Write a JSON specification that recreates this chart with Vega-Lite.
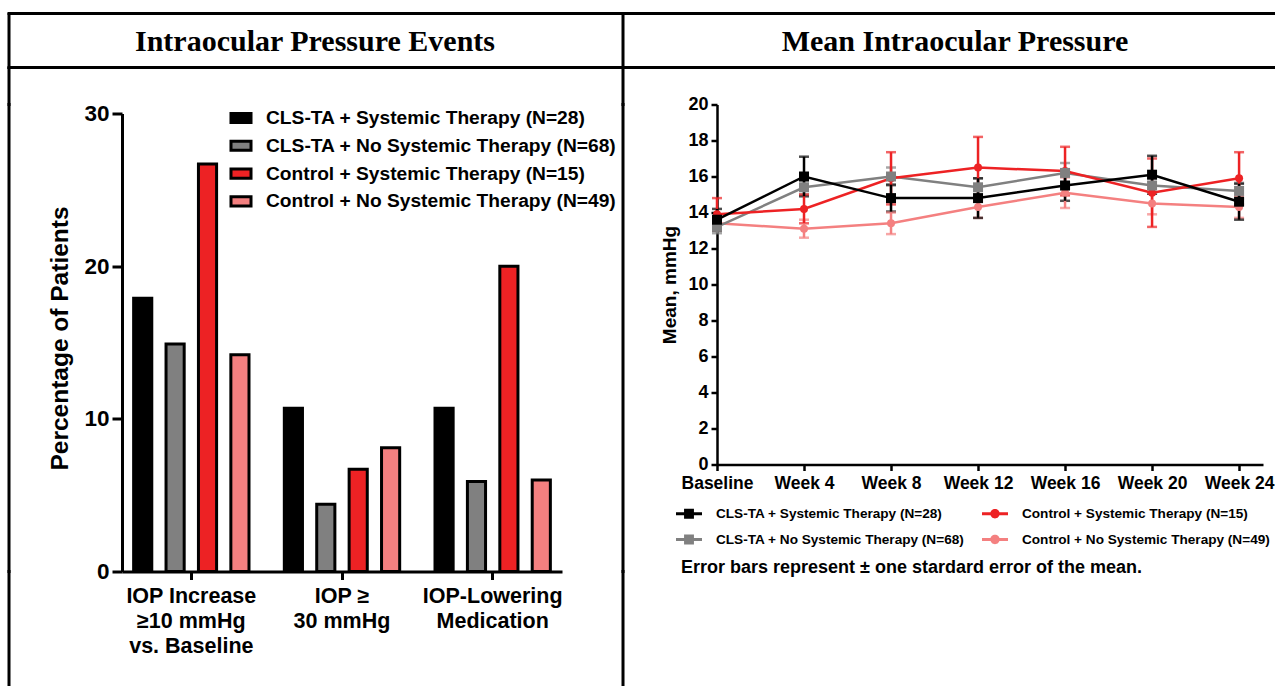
{
  "$schema": "https://vega.github.io/schema/vega-lite/v6.json",
  "padding": {"left": 7, "top": 11.5, "right": 0, "bottom": 0},
  "autosize": {"type": "pad"},
  "config": {
    "view": {"stroke": null},
    "font": "Liberation Sans",
    "axis": {"grid": false, "domainColor": "black", "tickColor": "black", "labelColor": "black", "titleColor": "black", "labelFontWeight": "bold", "titleFontWeight": "bold", "labelFont": "Liberation Sans", "titleFont": "Liberation Sans"},
    "legend": {"labelColor": "black", "titleColor": "black", "labelFontWeight": "bold", "titleFontWeight": "bold", "labelFont": "Liberation Sans", "titleFont": "Liberation Sans", "labelLimit": 600, "titleLimit": 800}
  },
  "resolve": {"scale": {"color": "independent"}, "legend": {"color": "independent"}},
  "columns": 8,
  "bounds": "flush",
  "align": "each",
  "spacing": 0,
  "concat": [
    {"width": 0.01, "height": 0.01, "view": {"stroke": "black", "strokeWidth": 3}, "data": {"values": []}, "mark": "point"},
    {"width": 112, "height": 0.01, "view": {"stroke": "black", "strokeWidth": 3}, "data": {"values": []}, "mark": "point"},
    {"width": 440, "height": 0.01, "view": {"stroke": "black", "strokeWidth": 3}, "data": {"values": []}, "mark": "point"},
    {"width": 60.5, "height": 0.01, "view": {"stroke": "black", "strokeWidth": 3}, "data": {"values": []}, "mark": "point"},
    {"width": 0.01, "height": 0.01, "view": {"stroke": "black", "strokeWidth": 3}, "data": {"values": []}, "mark": "point"},
    {"width": 92.5, "height": 0.01, "view": {"stroke": "black", "strokeWidth": 3}, "data": {"values": []}, "mark": "point"},
    {"width": 546, "height": 0.01, "view": {"stroke": "black", "strokeWidth": 3}, "data": {"values": []}, "mark": "point"},
    {"width": 11.5, "height": 0.01, "view": {"stroke": "black", "strokeWidth": 3}, "data": {"values": []}, "mark": "point"},

    {"width": 0.01, "height": 53, "view": {"stroke": "black", "strokeWidth": 3}, "data": {"values": []}, "mark": "point"},
    {"width": 0.01, "height": 0.01, "data": {"values": []}, "mark": "point"},
    {"width": 440, "height": 53, "data": {"values": [{"title": "Intraocular Pressure Events"}]}, "mark": {"type": "text", "font": "Liberation Serif", "fontSize": 30, "fontWeight": "bold", "color": "black", "dy": 1, "dx": -27}, "encoding": {"text": {"field": "title"}}},
    {"width": 0.01, "height": 0.01, "data": {"values": []}, "mark": "point"},
    {"width": 0.01, "height": 53, "view": {"stroke": "black", "strokeWidth": 3}, "data": {"values": []}, "mark": "point"},
    {"width": 0.01, "height": 0.01, "data": {"values": []}, "mark": "point"},
    {"width": 546, "height": 53, "data": {"values": [{"title": "Mean Intraocular Pressure"}]}, "mark": {"type": "text", "font": "Liberation Serif", "fontSize": 30, "fontWeight": "bold", "color": "black", "dy": 1, "dx": -35}, "encoding": {"text": {"field": "title"}}},
    {"width": 0.01, "height": 0.01, "data": {"values": []}, "mark": "point"},

    {"width": 0.01, "height": 0.01, "view": {"stroke": "black", "strokeWidth": 3}, "data": {"values": []}, "mark": "point"},
    {"width": 112, "height": 0.01, "view": {"stroke": "black", "strokeWidth": 3}, "data": {"values": []}, "mark": "point"},
    {"width": 440, "height": 0.01, "view": {"stroke": "black", "strokeWidth": 3}, "data": {"values": []}, "mark": "point"},
    {"width": 60.5, "height": 0.01, "view": {"stroke": "black", "strokeWidth": 3}, "data": {"values": []}, "mark": "point"},
    {"width": 0.01, "height": 0.01, "view": {"stroke": "black", "strokeWidth": 3}, "data": {"values": []}, "mark": "point"},
    {"width": 92.5, "height": 0.01, "view": {"stroke": "black", "strokeWidth": 3}, "data": {"values": []}, "mark": "point"},
    {"width": 546, "height": 0.01, "view": {"stroke": "black", "strokeWidth": 3}, "data": {"values": []}, "mark": "point"},
    {"width": 11.5, "height": 0.01, "view": {"stroke": "black", "strokeWidth": 3}, "data": {"values": []}, "mark": "point"},

    {"width": 0.01, "height": 36, "view": {"stroke": "black", "strokeWidth": 3}, "data": {"values": []}, "mark": "point"},
    {"width": 0.01, "height": 0.01, "data": {"values": []}, "mark": "point"},
    {"width": 0.01, "height": 0.01, "data": {"values": []}, "mark": "point"},
    {"width": 0.01, "height": 0.01, "data": {"values": []}, "mark": "point"},
    {"width": 0.01, "height": 36, "view": {"stroke": "black", "strokeWidth": 3}, "data": {"values": []}, "mark": "point"},
    {"width": 0.01, "height": 0.01, "data": {"values": []}, "mark": "point"},
    {"width": 0.01, "height": 0.01, "data": {"values": []}, "mark": "point"},
    {"width": 0.01, "height": 0.01, "data": {"values": []}, "mark": "point"},

    {"width": 0.01, "height": 467, "view": {"stroke": "black", "strokeWidth": 3}, "data": {"values": []}, "mark": "point"},
    {"width": 0.01, "height": 0.01, "data": {"values": []}, "mark": "point"},
    {
      "width": 440,
      "height": 467,
      "data": {"values": [
        {"event": "IOP Increase\n≥10 mmHg\nvs. Baseline", "group": "CLS-TA + Systemic Therapy (N=28)", "pct": 17.9},
        {"event": "IOP Increase\n≥10 mmHg\nvs. Baseline", "group": "CLS-TA + No Systemic Therapy (N=68)", "pct": 14.9},
        {"event": "IOP Increase\n≥10 mmHg\nvs. Baseline", "group": "Control + Systemic Therapy (N=15)", "pct": 26.7},
        {"event": "IOP Increase\n≥10 mmHg\nvs. Baseline", "group": "Control + No Systemic Therapy (N=49)", "pct": 14.2},
        {"event": "IOP ≥\n30 mmHg", "group": "CLS-TA + Systemic Therapy (N=28)", "pct": 10.7},
        {"event": "IOP ≥\n30 mmHg", "group": "CLS-TA + No Systemic Therapy (N=68)", "pct": 4.4},
        {"event": "IOP ≥\n30 mmHg", "group": "Control + Systemic Therapy (N=15)", "pct": 6.7},
        {"event": "IOP ≥\n30 mmHg", "group": "Control + No Systemic Therapy (N=49)", "pct": 8.1},
        {"event": "IOP-Lowering\nMedication", "group": "CLS-TA + Systemic Therapy (N=28)", "pct": 10.7},
        {"event": "IOP-Lowering\nMedication", "group": "CLS-TA + No Systemic Therapy (N=68)", "pct": 5.9},
        {"event": "IOP-Lowering\nMedication", "group": "Control + Systemic Therapy (N=15)", "pct": 20.0},
        {"event": "IOP-Lowering\nMedication", "group": "Control + No Systemic Therapy (N=49)", "pct": 6.0}
      ]},
      "mark": {"type": "bar", "stroke": "black", "strokeWidth": 3, "opacity": 1},
      "encoding": {
        "x": {"field": "event", "type": "nominal", "sort": ["IOP Increase\n≥10 mmHg\nvs. Baseline", "IOP ≥\n30 mmHg", "IOP-Lowering\nMedication"], "scale": {"paddingInner": 0.2, "paddingOuter": 0.06},
          "axis": {"title": null, "labelAngle": 0, "labelExpr": "split(datum.label, '\\n')", "labelFontSize": 21.5, "labelLineHeight": 25, "labelPadding": 6, "domainWidth": 3, "tickWidth": 3, "tickSize": 8, "labelOverlap": false}},
        "xOffset": {"field": "group", "type": "nominal", "sort": ["CLS-TA + Systemic Therapy (N=28)", "CLS-TA + No Systemic Therapy (N=68)", "Control + Systemic Therapy (N=15)", "Control + No Systemic Therapy (N=49)"], "scale": {"paddingInner": 0.44, "paddingOuter": 0.08}},
        "y": {"field": "pct", "type": "quantitative", "scale": {"domain": [0, 30], "nice": false, "range": [467, 9]},
          "axis": {"values": [0, 10, 20, 30], "domainWidth": 3, "tickWidth": 3, "tickSize": 10, "labelFontSize": 22.5, "labelPadding": 3, "title": "Percentage of Patients", "titleFontSize": 24.5, "titlePadding": 11, "titleY": 233.5}},
        "color": {"field": "group", "type": "nominal",
          "scale": {"domain": ["CLS-TA + Systemic Therapy (N=28)", "CLS-TA + No Systemic Therapy (N=68)", "Control + Systemic Therapy (N=15)", "Control + No Systemic Therapy (N=49)"], "range": ["#000000", "#808080", "#ed2224", "#f48080"]},
          "legend": {"orient": "none", "legendX": 104.5, "legendY": -1, "title": null, "padding": 0, "symbolType": "M-0.77,-0.35H0.77V0.35H-0.77Z", "symbolSize": 676, "symbolStrokeColor": "black", "symbolStrokeWidth": 3, "symbolOpacity": 1, "labelFontSize": 19.2, "labelOffset": 10.5, "rowPadding": 1.8}}
      }
    },
    {"width": 0.01, "height": 0.01, "data": {"values": []}, "mark": "point"},
    {"width": 0.01, "height": 467, "view": {"stroke": "black", "strokeWidth": 3}, "data": {"values": []}, "mark": "point"},
    {"width": 0.01, "height": 0.01, "data": {"values": []}, "mark": "point"},
    {
      "width": 546,
      "height": 360,
      "data": {"values": [
        {"series": "Control + No Systemic Therapy (N=49)", "week": 0, "mean": 13.4, "lo": 13.1, "hi": 13.7},
        {"series": "Control + No Systemic Therapy (N=49)", "week": 4, "mean": 13.1, "lo": 12.6, "hi": 13.6},
        {"series": "Control + No Systemic Therapy (N=49)", "week": 8, "mean": 13.4, "lo": 12.8, "hi": 14.0},
        {"series": "Control + No Systemic Therapy (N=49)", "week": 12, "mean": 14.3, "lo": 13.7, "hi": 14.9},
        {"series": "Control + No Systemic Therapy (N=49)", "week": 16, "mean": 15.1, "lo": 14.25, "hi": 15.95},
        {"series": "Control + No Systemic Therapy (N=49)", "week": 20, "mean": 14.5, "lo": 13.9, "hi": 15.1},
        {"series": "Control + No Systemic Therapy (N=49)", "week": 24, "mean": 14.3, "lo": 13.7, "hi": 14.9},
        {"series": "CLS-TA + No Systemic Therapy (N=68)", "week": 0, "mean": 13.2, "lo": 12.85, "hi": 13.55},
        {"series": "CLS-TA + No Systemic Therapy (N=68)", "week": 4, "mean": 15.4, "lo": 15.0, "hi": 15.8},
        {"series": "CLS-TA + No Systemic Therapy (N=68)", "week": 8, "mean": 16.0, "lo": 15.5, "hi": 16.5},
        {"series": "CLS-TA + No Systemic Therapy (N=68)", "week": 12, "mean": 15.4, "lo": 14.9, "hi": 15.9},
        {"series": "CLS-TA + No Systemic Therapy (N=68)", "week": 16, "mean": 16.2, "lo": 15.65, "hi": 16.75},
        {"series": "CLS-TA + No Systemic Therapy (N=68)", "week": 20, "mean": 15.5, "lo": 15.05, "hi": 15.95},
        {"series": "CLS-TA + No Systemic Therapy (N=68)", "week": 24, "mean": 15.2, "lo": 14.75, "hi": 15.65},
        {"series": "Control + Systemic Therapy (N=15)", "week": 0, "mean": 13.9, "lo": 13.0, "hi": 14.8},
        {"series": "Control + Systemic Therapy (N=15)", "week": 4, "mean": 14.2, "lo": 13.4, "hi": 15.0},
        {"series": "Control + Systemic Therapy (N=15)", "week": 8, "mean": 15.9, "lo": 14.45, "hi": 17.35},
        {"series": "Control + Systemic Therapy (N=15)", "week": 12, "mean": 16.5, "lo": 14.8, "hi": 18.2},
        {"series": "Control + Systemic Therapy (N=15)", "week": 16, "mean": 16.3, "lo": 14.95, "hi": 17.65},
        {"series": "Control + Systemic Therapy (N=15)", "week": 20, "mean": 15.1, "lo": 13.2, "hi": 17.0},
        {"series": "Control + Systemic Therapy (N=15)", "week": 24, "mean": 15.9, "lo": 14.45, "hi": 17.35},
        {"series": "CLS-TA + Systemic Therapy (N=28)", "week": 0, "mean": 13.6, "lo": 13.0, "hi": 14.2},
        {"series": "CLS-TA + Systemic Therapy (N=28)", "week": 4, "mean": 16.0, "lo": 14.9, "hi": 17.1},
        {"series": "CLS-TA + Systemic Therapy (N=28)", "week": 8, "mean": 14.8, "lo": 14.05, "hi": 15.55},
        {"series": "CLS-TA + Systemic Therapy (N=28)", "week": 12, "mean": 14.8, "lo": 13.7, "hi": 15.9},
        {"series": "CLS-TA + Systemic Therapy (N=28)", "week": 16, "mean": 15.5, "lo": 14.65, "hi": 16.35},
        {"series": "CLS-TA + Systemic Therapy (N=28)", "week": 20, "mean": 16.1, "lo": 15.05, "hi": 17.15},
        {"series": "CLS-TA + Systemic Therapy (N=28)", "week": 24, "mean": 14.6, "lo": 13.6, "hi": 15.6}
      ]},
      "encoding": {
        "x": {"field": "week", "type": "quantitative", "scale": {"domain": [0, 25.1], "nice": false, "zero": false},
          "axis": {"values": [0, 4, 8, 12, 16, 20, 24], "labelExpr": "datum.value == 0 ? 'Baseline' : 'Week ' + datum.value", "title": null, "domainWidth": 2.5, "tickWidth": 2.5, "tickSize": 6, "labelFontSize": 17.5, "labelPadding": 4, "labelFlush": false, "labelOverlap": false}},
        "y": {"field": "mean", "type": "quantitative", "title": "Mean, mmHg", "scale": {"domain": [0, 20], "nice": false},
          "axis": {"values": [0, 2, 4, 6, 8, 10, 12, 14, 16, 18, 20], "domainWidth": 2.5, "tickWidth": 2.5, "tickSize": 6, "labelFontSize": 18, "labelPadding": 3, "titleFontSize": 19, "titlePadding": 8}},
        "color": {"field": "series", "type": "nominal",
          "scale": {"domain": ["CLS-TA + Systemic Therapy (N=28)", "CLS-TA + No Systemic Therapy (N=68)", "Control + Systemic Therapy (N=15)", "Control + No Systemic Therapy (N=49)"], "range": ["#000000", "#808080", "#ed2224", "#f48080"]},
          "legend": {"orient": "none", "legendX": -41, "legendY": 396, "columns": 2, "columnPadding": 17, "rowPadding": 6, "padding": 0, "symbolSize": 676, "symbolStrokeWidth": 0, "labelFontSize": 13.6, "labelOffset": 14,
            "title": "Error bars represent ± one stardard error of the mean.", "titleOrient": "bottom", "titleAnchor": "start", "titleFontSize": 18, "titlePadding": 12,
            "encode": {
              "title": {"update": {"dx": {"value": 5}}},
              "symbols": {"update": {
                "shape": {"signal": "indexof(datum.value, 'CLS') == 0 ? 'M-1,-0.11H1V0.11H-1Z M-0.38,-0.38H0.38V0.38H-0.38Z' : 'M-1,-0.11H1V0.11H-1Z M0.36,0A0.36,0.36,0,1,1,-0.36,0A0.36,0.36,0,1,1,0.36,0Z'"},
                "fill": {"signal": "scale('color', datum.value)"},
                "opacity": {"value": 1}}}}}}
      },
      "layer": [
        {"mark": {"type": "errorbar", "ticks": {"size": 10, "thickness": 2.5}, "rule": {"strokeWidth": 2.5}},
          "encoding": {"y": {"field": "lo", "type": "quantitative", "title": "Mean, mmHg"}, "y2": {"field": "hi"}}},
        {"mark": {"type": "line", "strokeWidth": 2.5}},
        {"transform": [{"filter": "indexof(datum.series, 'Control') == 0"}],
          "mark": {"type": "point", "shape": "circle", "filled": true, "opacity": 1, "size": 64}},
        {"transform": [{"filter": "indexof(datum.series, 'CLS') == 0"}],
          "mark": {"type": "point", "shape": "square", "filled": true, "opacity": 1, "size": 100}}
      ]
    },
    {"width": 0.01, "height": 0.01, "data": {"values": []}, "mark": "point"},

    {"width": 0.01, "height": 114, "view": {"stroke": "black", "strokeWidth": 3}, "data": {"values": []}, "mark": "point"},
    {"width": 0.01, "height": 0.01, "data": {"values": []}, "mark": "point"},
    {"width": 0.01, "height": 0.01, "data": {"values": []}, "mark": "point"},
    {"width": 0.01, "height": 0.01, "data": {"values": []}, "mark": "point"},
    {"width": 0.01, "height": 114, "view": {"stroke": "black", "strokeWidth": 3}, "data": {"values": []}, "mark": "point"},
    {"width": 0.01, "height": 0.01, "data": {"values": []}, "mark": "point"},
    {"width": 0.01, "height": 0.01, "data": {"values": []}, "mark": "point"},
    {"width": 0.01, "height": 0.01, "data": {"values": []}, "mark": "point"}
  ]
}
